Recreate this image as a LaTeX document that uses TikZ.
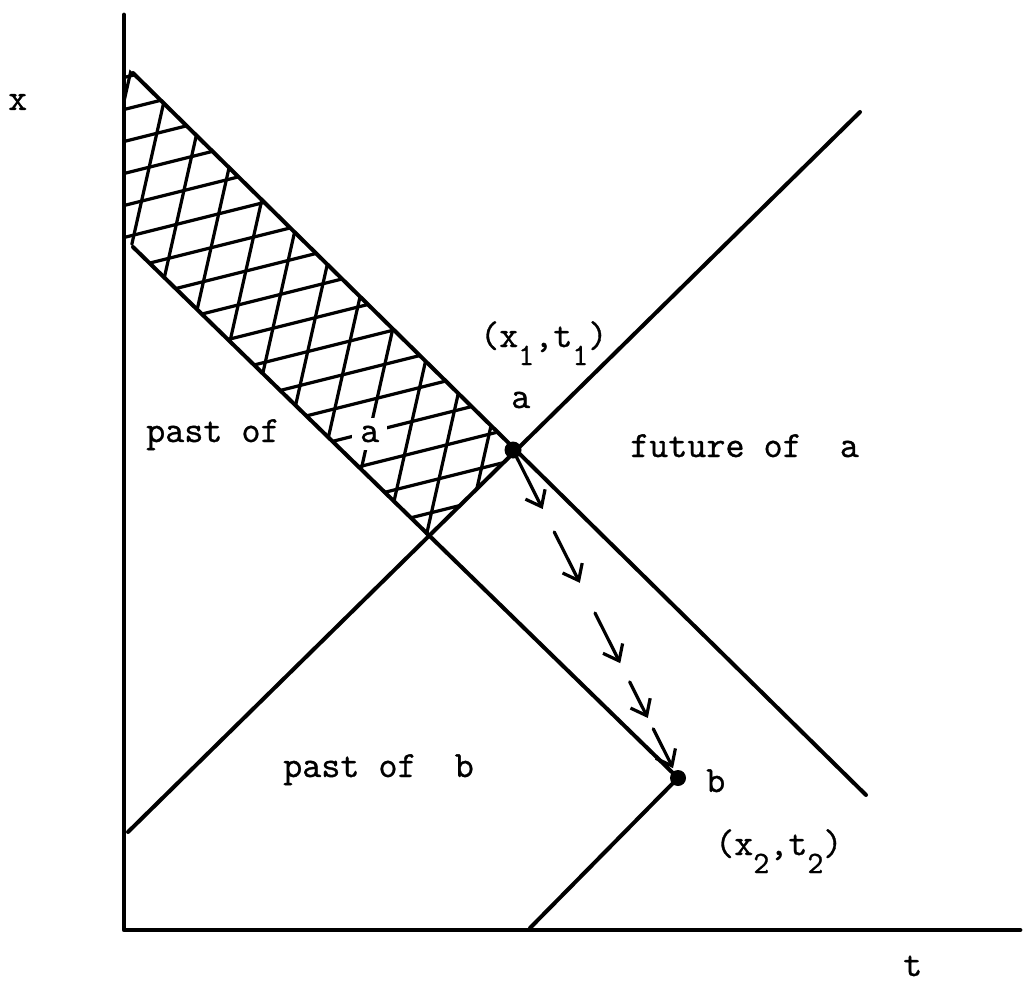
\documentclass[tikz,border=0pt]{standalone}
\usepackage{fontspec}
\newfontfamily\twfont[FakeBold=0.9]{Latin Modern Mono}
\usetikzlibrary{arrows.meta,calc}
\begin{document}
\begin{tikzpicture}[x=1pt,y=-1pt,
  axisline/.style={line width=4.8pt,line cap=round,line join=round},
  coneline/.style={line width=4pt,line cap=round},
  hatchline/.style={line width=3.2pt,line cap=round},
  arr/.style={line width=3.2pt,line cap=round,-{Straight Barb[length=14pt,width=22pt,line width=3.2pt]}},
  dot/.style={circle,fill=black,inner sep=0pt,minimum size=#1},
  lbl/.style={inner sep=0pt,anchor=base west,font=\twfont\fontsize{37}{40}\selectfont},
]
\useasboundingbox (0,0) rectangle (1023,987);
% key points
\coordinate (a) at (513,450);
\coordinate (b) at (678,778);
\coordinate (c) at (428,537);
\coordinate (l1s) at (133,73);
\coordinate (l1e) at (866,795);
\coordinate (l2s) at (133,247);
\coordinate (l3s) at (128,832);
\coordinate (l3e) at (860,112);
\coordinate (l4e) at (530,928);
\coordinate (ytop) at (124,15);
\coordinate (orig) at (124,930);
\coordinate (xend) at (1020,930);
% hatching
\begin{scope}
  \clip (126,66) -- (a) -- (c) -- (126,240) -- cycle;
  \foreach \k in {-3,...,18} {
    \draw[hatchline] (100,115.5+32*\k) -- ++(500,-125);
  }
  \foreach \k in {-3,...,13} {
    \draw[hatchline] (186.8+40*\k,0) -- ++(-135,600);
  }
\end{scope}
% label inside the hatched band, on a cleared patch
\node[lbl,fill=white,inner sep=8pt] (alab2) at (352,442) {a};
% axes
\draw[axisline] (ytop) -- (orig) -- (xend);
% cone lines
\draw[coneline] (l1s) -- (l1e);
\draw[coneline] (l2s) -- (b);
\draw[coneline] (l3s) -- (l3e);
\draw[coneline] (b) -- (l4e);
% dots
\node[dot=17pt] (adot) at (a) {};
\node[dot=16pt] (bdot) at (b) {};
% dashed arrows from a to b
\draw[arr] (a) -- ($(a)!0.18!(b)$);
\draw[arr] ($(a)!0.25!(b)$) -- ($(a)!0.405!(b)$);
\draw[arr] ($(a)!0.497!(b)$) -- ($(a)!0.65!(b)$);
\draw[arr] ($(a)!0.707!(b)$) -- ($(a)!0.817!(b)$);
\draw[arr] ($(a)!0.85!(b)$) -- ($(a)!0.97!(b)$);
% labels
\node[lbl] (xlab) at (8,110) {x};
\node[lbl] (tlab) at (903,976) {t};
\node[lbl] (p1) at (480,347) {(x\raisebox{-18pt}{\fontsize{31}{31}\selectfont 1},t\raisebox{-18pt}{\fontsize{31}{31}\selectfont 1})};
\node[lbl] (alab) at (511,408) {a};
\node[lbl] (fut) at (630,457) {future of\ \ a};
\node[lbl] (pasta) at (146,442) {past of};
\node[lbl] (pastb) at (283,777) {past of\ \ b};
\node[lbl] (blab) at (706,792) {b};
\node[lbl] (p2) at (715,855) {(x\raisebox{-18pt}{\fontsize{31}{31}\selectfont 2},t\raisebox{-18pt}{\fontsize{31}{31}\selectfont 2})};
\end{tikzpicture}
\end{document}
